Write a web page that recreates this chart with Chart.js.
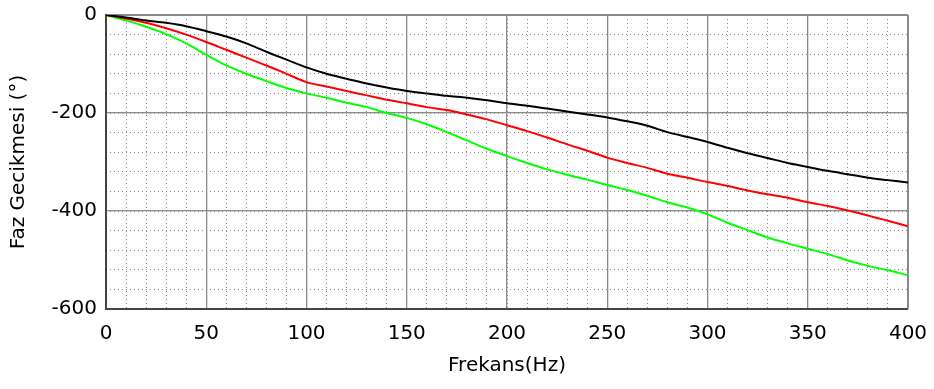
<!DOCTYPE html>
<html>
<head>
<meta charset="utf-8">
<script src="https://cdn.jsdelivr.net/npm/chart.js@4.4.0/dist/chart.umd.min.js"></script>
<style>
  html, body { margin: 0; padding: 0; background: #fff; }
  #wrap { width: 934px; height: 389px; }
</style>
</head>
<body>
<div id="wrap"><canvas id="c"></canvas></div>
<script>
// frequency samples (Hz)
const freqs = [0,10,20,30,40,50,60,70,80,90,100,110,120,130,140,150,160,170,180,190,200,
  210,220,230,240,250,260,270,280,290,300,310,320,330,340,350,360,370,380,390,400];

// phase delay (degrees)
const blackPhase = [0,-5,-11,-16,-23,-33,-44,-58,-75,-91,-107,-120,-130,-140,-148,-155,-160,-165,-169,-174,-180,
  -185,-191,-197,-203,-209,-217,-226,-239,-249,-259,-271,-282,-292,-302,-310,-318,-325,-332,-337,-342];
const redPhase = [0,-7,-16,-27,-40,-55,-71,-87,-103,-120,-137,-146,-155,-164,-173,-180,-188,-194,-203,-213,-225,
  -237,-250,-264,-277,-291,-302,-312,-324,-332,-341,-349,-358,-366,-373,-382,-390,-399,-409,-420,-431];
const greenPhase = [0,-11,-24,-39,-58,-81,-103,-120,-135,-149,-160,-169,-179,-188,-200,-210,-223,-239,-256,-273,-288,
  -302,-315,-326,-336,-347,-357,-369,-382,-393,-407,-424,-439,-454,-466,-477,-488,-501,-512,-521,-531];

const xTicks = [0,50,100,150,200,250,300,350,400];
const yTicks = [0,-200,-400,-600];

function pts(ys) {
  return freqs.map((f, i) => ({x: f, y: ys[i]}));
}

function line(data, color) {
  return {
    data: pts(data),
    borderColor: color,
    borderWidth: 2,
    pointRadius: 0,
    tension: 0.3,
    fill: false
  };
}

const font = {family: 'DejaVu Sans', size: 20};

new Chart(document.getElementById('c'), {
  type: 'line',
  data: {
    datasets: [
      line(blackPhase, '#000000'),
      line(redPhase, '#ff0000'),
      line(greenPhase, '#00ff00')
    ]
  },
  options: {
    responsive: true,
    maintainAspectRatio: false,
    animation: false,
    layout: {padding: {top: 15, right: 26, left: 0, bottom: 0}},
    plugins: {legend: {display: false}, tooltip: {enabled: false}},
    scales: {
      xMinor: {
        type: 'linear', position: 'bottom', min: 0, max: 400,
        ticks: {display: false, stepSize: 10},
        grid: {color: '#888', lineWidth: 1, drawTicks: false},
        border: {display: false, dash: [1, 3]},
        afterFit: s => { s.height = 0; s.paddingLeft = 0; s.paddingRight = 0; }
      },
      yMinor: {
        type: 'linear', position: 'left', min: -600, max: 0,
        ticks: {display: false, stepSize: 40},
        grid: {color: '#888', lineWidth: 1, drawTicks: false},
        border: {display: false, dash: [1, 3]},
        afterFit: s => { s.width = 0; s.paddingTop = 0; s.paddingBottom = 0; }
      },
      x: {
        type: 'linear', position: 'bottom', min: 0, max: 400,
        afterBuildTicks: s => { s.ticks = xTicks.map(v => ({value: v})); },
        ticks: {font: font, color: '#000', padding: 13, maxRotation: 0},
        grid: {color: '#8a8a8a', lineWidth: c => (c.tick && c.tick.value === 400 ? 2 : 1.3), drawTicks: false},
        border: {color: '#444', width: 2},
        title: {display: true, text: 'Frekans(Hz)', font: font, color: '#000', padding: {top: 0, bottom: 11}},
        afterFit: s => { s.height = 80; s.paddingLeft = 0; s.paddingRight = 0; }
      },
      y: {
        type: 'linear', position: 'left', min: -600, max: 0,
        afterBuildTicks: s => { s.ticks = yTicks.map(v => ({value: v})); },
        ticks: {font: font, color: '#000', padding: 9},
        grid: {color: '#8a8a8a', lineWidth: c => (c.tick && c.tick.value === 0 ? 2 : 1.3), drawTicks: false},
        border: {color: '#444', width: 2},
        title: {display: true, text: 'Faz Gecikmesi (°)', font: font, color: '#000', padding: {top: 7, bottom: 0}},
        afterFit: s => { s.width = 106; s.paddingTop = 0; s.paddingBottom = 0; }
      }
    }
  }
});
</script>
</body>
</html>
